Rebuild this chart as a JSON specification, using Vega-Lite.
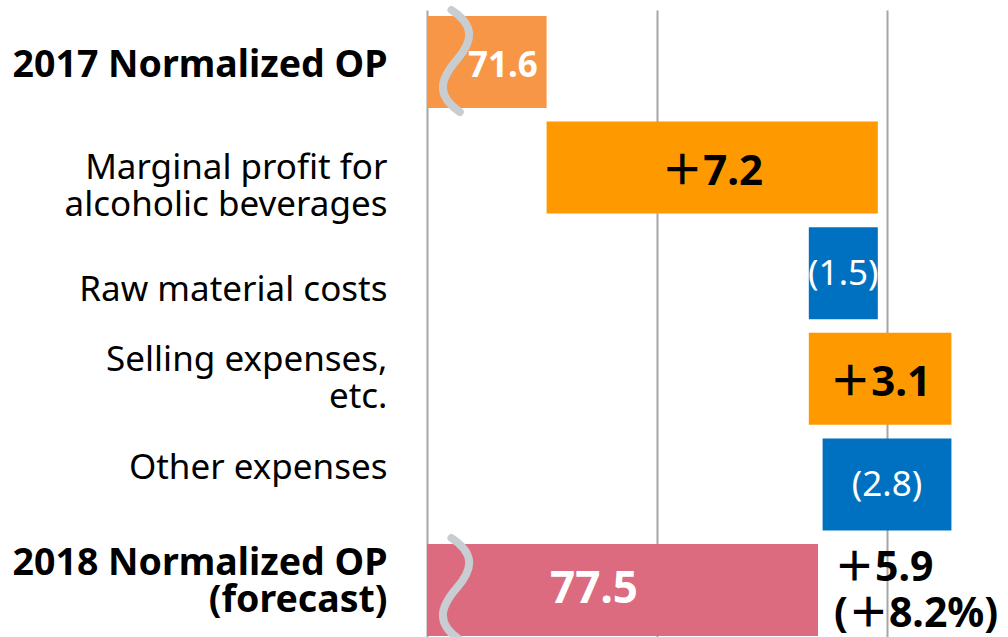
{
  "$schema": "https://vega.github.io/schema/vega-lite/v6.json",
  "width": 581,
  "height": 632,
  "autosize": {"type": "none"},
  "padding": {"left": 427, "top": 10, "right": 0, "bottom": 0},
  "background": "white",
  "config": {
    "view": {"stroke": null},
    "font": "Noto Sans",
    "axisX": {"labels": false, "ticks": false, "domain": false, "gridColor": "#A6A6A6", "gridWidth": 2, "gridOpacity": 1}
  },
  "data": {
    "values": [
      {"item": "2017 Normalized OP", "start": 0, "end": 71.6, "kind": "total2017", "label": "71.6"},
      {"item": "Marginal profit for\nalcoholic beverages", "start": 71.6, "end": 78.8, "kind": "increase", "label": "＋7.2"},
      {"item": "Raw material costs", "start": 77.3, "end": 78.8, "kind": "decrease", "label": "(1.5)"},
      {"item": "Selling expenses,\netc.", "start": 77.3, "end": 80.4, "kind": "increase", "label": "＋3.1"},
      {"item": "Other expenses", "start": 77.6, "end": 80.4, "kind": "decrease", "label": "(2.8)"},
      {"item": "2018 Normalized OP\n(forecast)", "start": 0, "end": 77.5, "kind": "total2018", "label": "77.5", "note": "＋5.9\n(＋8.2%)"}
    ]
  },
  "transform": [{"calculate": "(datum.start + datum.end) / 2", "as": "mid"}],
  "encoding": {
    "y": {
      "field": "item",
      "type": "nominal",
      "sort": null,
      "scale": {"paddingInner": 0.129, "paddingOuter": 0.057},
      "axis": {
        "title": null,
        "ticks": false,
        "domain": false,
        "labelPadding": 40,
        "labelLimit": 420,
        "labelColor": "#000000",
        "labelFont": "Noto Sans",
        "labelLineHeight": 37,
        "labelExpr": "split(datum.label, '\\n')",
        "labelFontWeight": {"condition": {"test": "indexof(datum.value, 'Normalized') >= 0", "value": "bold"}, "value": "normal"},
        "labelFontSize": {"condition": {"test": "indexof(datum.value, 'Normalized') >= 0", "value": 37.5}, "value": 35},
        "labelOffset": {
          "condition": [
            {"test": "indexof(datum.value, '2017') >= 0", "value": 4},
            {"test": "indexof(datum.value, 'Marginal') >= 0", "value": 0},
            {"test": "indexof(datum.value, 'Raw') >= 0", "value": 17},
            {"test": "indexof(datum.value, 'Selling') >= 0", "value": -19},
            {"test": "indexof(datum.value, 'Other') >= 0", "value": -16},
            {"test": "indexof(datum.value, '2018') >= 0", "value": -26}
          ],
          "value": 0
        }
      }
    }
  },
  "layer": [
    {
      "mark": {"type": "bar", "clip": true},
      "encoding": {
        "x": {"field": "start", "type": "quantitative", "title": null, "scale": {"domain": [69, 81.63], "zero": false, "nice": false}, "axis": {"values": [69, 74, 79], "title": null}},
        "x2": {"field": "end"},
        "color": {
          "field": "kind",
          "type": "nominal",
          "scale": {"domain": ["total2017", "increase", "decrease", "total2018"], "range": ["#F79646", "#FF9900", "#0070C0", "#DC6B80"]},
          "legend": null
        }
      }
    },
    {
      "transform": [{"filter": "datum.kind == 'total2017' || datum.kind == 'total2018'"}],
      "mark": {
        "type": "point",
        "shape": "M-0.06,-1 C0.4,-0.7 0.35,-0.4 0.05,-0.05 C-0.3,0.35 -0.35,0.65 0.1,0.96",
        "filled": false,
        "stroke": "#C8CDD1",
        "strokeWidth": 8,
        "strokeCap": "round",
        "opacity": 1,
        "size": 10816
      },
      "encoding": {"x": {"datum": 69.6, "type": "quantitative"}}
    },
    {
      "transform": [{"filter": "datum.kind == 'increase'"}],
      "mark": {"type": "text", "fontSize": 42, "fontWeight": "bold", "color": "#000000", "baseline": "middle", "dy": 4, "font": "Noto Sans, Noto Sans CJK JP"},
      "encoding": {"x": {"field": "mid", "type": "quantitative", "title": null}, "text": {"field": "label"}}
    },
    {
      "transform": [{"filter": "datum.kind == 'decrease'"}],
      "mark": {"type": "text", "fontSize": 35, "fontWeight": "normal", "color": "#FFFFFF", "baseline": "middle", "dy": 1},
      "encoding": {"x": {"field": "mid", "type": "quantitative", "title": null}, "text": {"field": "label"}}
    },
    {
      "transform": [{"filter": "datum.kind == 'total2017'"}],
      "mark": {"type": "text", "fontSize": 35, "fontWeight": "bold", "color": "#FFFFFF", "baseline": "middle", "dy": 4},
      "encoding": {"x": {"datum": 70.65, "type": "quantitative"}, "text": {"field": "label"}}
    },
    {
      "transform": [{"filter": "datum.kind == 'total2018'"}],
      "mark": {"type": "text", "fontSize": 44, "fontWeight": "bold", "color": "#FFFFFF", "baseline": "middle"},
      "encoding": {"x": {"datum": 72.63, "type": "quantitative"}, "text": {"field": "label"}}
    },
    {
      "transform": [{"filter": "datum.kind == 'total2018'"}],
      "mark": {"type": "text", "fontSize": 41, "fontWeight": "bold", "color": "#000000", "baseline": "middle", "align": "left", "dx": 16, "dy": -21, "lineHeight": 46, "lineBreak": "\n", "font": "Noto Sans, Noto Sans CJK JP"},
      "encoding": {"x": {"field": "end", "type": "quantitative", "title": null}, "text": {"field": "note"}}
    }
  ]
}
